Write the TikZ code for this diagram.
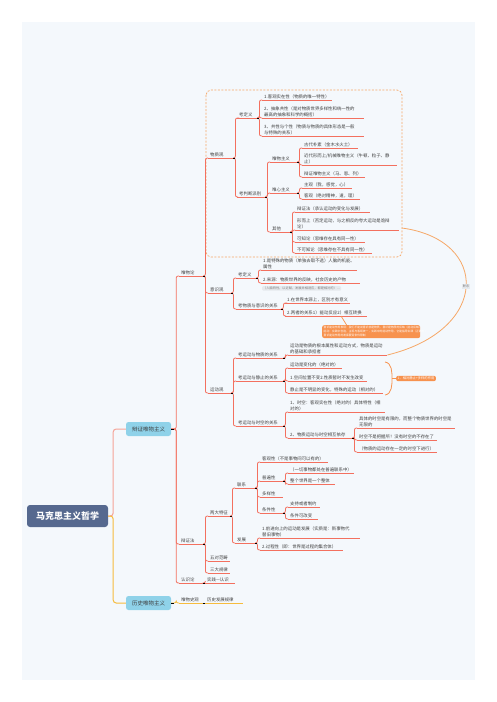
\documentclass[tikz,border=0pt]{standalone}
\usepackage{fontspec}
\setmainfont{Noto Sans CJK SC}
\usetikzlibrary{calc}
\definecolor{bgc}{HTML}{F4F8FC}
\definecolor{rootc}{HTML}{56698F}
\definecolor{l1c}{HTML}{8FD2E9}
\definecolor{lc}{HTML}{F3705F}
\definecolor{yc}{HTML}{F6BC3E}
\definecolor{pc}{HTML}{F5A398}
\definecolor{oc}{HTML}{F7924E}
\definecolor{dc}{HTML}{F6A867}
\definecolor{txt}{HTML}{3F3F3F}
\definecolor{notec}{HTML}{E6EAEE}
\tikzset{
  tp/.style={anchor=south west, inner xsep=2pt, inner ysep=1.3pt, font=\fontsize{4.4}{5.8}\selectfont, text=txt, align=left},
  ul/.style={lc, line width=0.8pt},
  yul/.style={yc, line width=0.8pt},
  cn/.style={lc, line width=0.8pt, rounded corners=2pt},
  ycn/.style={yc, line width=0.8pt, rounded corners=2pt},
  stub/.style={black, line width=0.9pt},
  rootbox/.style={fill=rootc, text=white, rounded corners=3pt, minimum width=81pt, minimum height=22pt, inner sep=0pt, font=\fontsize{9}{10}\selectfont\bfseries},
  l1box/.style={fill=l1c, text=txt, rounded corners=2.5pt, minimum width=45pt, minimum height=14pt, inner sep=0pt, font=\fontsize{5.5}{6}\selectfont},
  callout/.style={fill=oc, text=white, rounded corners=2pt, inner xsep=1.5pt, inner ysep=1.2pt, align=left},
  notebox/.style={fill=notec, text=gray, rounded corners=1pt, inner xsep=1pt, inner ysep=0.7pt, font=\fontsize{3.2}{3.6}\selectfont},
}
\newcommand\topicnode[6][]{\pgfmathsetmacro\tpw{#5-#3-4}\node[tp,text width=\tpw pt,#1] (#2) at (#3,#4) {#6};}
\begin{document}
\begin{tikzpicture}[x=1pt,y=-1pt]
\useasboundingbox (0,0) rectangle (497,702);
\fill[bgc] (22,22) rectangle (475,680);
% dashed boundary around 物质观
\draw[dc, dashed, dash pattern=on 2pt off 1.5pt, line width=0.7pt, rounded corners=5pt] (206,90) rectangle (402,257);
\coordinate (bx) at (402,228);

% root and level 1
\node[rootbox] (root) at (67.5,516) {马克思主义哲学};
\node[l1box] (A) at (148.5,429) {辩证唯物主义};
\node[l1box] (B) at (148.5,603) {历史唯物主义};
\draw[pc, line width=1pt, rounded corners=3pt] (root.east) -- ++(5,0) |- (A.west);
\draw[yc, line width=1pt, rounded corners=3pt] (root.east) -- ++(5,0) |- (B.west);

% level 2
\topicnode{w1}{179}{276}{203}{唯物论}
\topicnode{w2}{179}{544}{203}{辩证法}
\topicnode{w3}{179}{583}{203}{认识论}
\topicnode{h1}{179}{603}{203}{唯物史观}
\topicnode{h2}{205}{603}{243}{历史发展规律}

% 唯物论
\topicnode{a1}{208}{158}{233}{物质观}
\topicnode{a2}{208}{293}{231}{意识观}
\topicnode{a3}{208}{393}{231}{运动观}

% 物质观
\topicnode{b1}{237}{118}{257}{考定义}
\topicnode{b2}{237}{197}{265}{考判断派别}
\topicnode{c1}{262}{100}{332}{1.客观实在性（物质的唯一特性）}
\topicnode{c2}{262}{118}{364}{2、抽象共性（是对物质世界多样性和统一性的\\最高的抽象和科学的概括）}
\topicnode{c3}{262}{136}{364}{3、共性与个性（物质与物质的具体形态是一般\\与特殊的关系）}
\topicnode{d1}{270}{162}{297}{唯物主义}
\topicnode{d2}{270}{193}{297}{唯心主义}
\topicnode{d3}{270}{232}{290}{其他}
\topicnode{e1}{302}{148}{358}{古代朴素（金木水火土）}
\topicnode{e2}{302}{165}{397}{近代形而上/机械唯物主义（牛顿、粒子、静\\止）}
\topicnode{e3}{302}{177}{365}{辩证唯物主义（马、恩、列）}
\topicnode{e4}{302}{188}{352}{主观（我，感觉，心）}
\topicnode{e5}{302}{199}{360}{客观（绝对精神，道，理）}
\topicnode{e6}{295}{212}{370}{辩证法（承认运动的变化与发展）}
\topicnode{e7}{295}{230}{399}{形而上（否定运动，与之相反的夸大运动是诡辩\\论）}
\topicnode{e8}{295}{242}{365}{可知论（思维存在具有同一性）}
\topicnode{e9}{295}{253}{372}{不可知论（思维存在不具有同一性）}

% 意识观
\topicnode{f1}{236}{278}{256}{考定义}
\topicnode{f2}{236}{309}{281}{考物质与意识的关系}
\topicnode{g1}{261}{270}{357}{1.是特殊的物质（单独去取不选）人脑的机能、\\属性}
\topicnode{g2}{261}{283}{360}{2.来源：物质世界的反映，社会历史的产物}
\node[notebox, anchor=north west] (yn) at (262,286) {（人脑特性，以近赋，发展并相适应，都是相对的）…};
\topicnode{g3}{285}{303}{350}{1.在世界本源上，区别才有意义}
\topicnode{g4}{285}{316}{367}{2.两者的关系1）能动反应2）相互转换}
\node[callout, anchor=north west, text width=95pt, font=\fontsize{2.8}{3.9}\selectfont] (cb1) at (322,325) {意识能动作用表现：我们不能说意识就是物质，意识是物质的反映（能动反映）\\能动：实践中创造，主观与客观统一，实践中的能动作用，它能指导实践（正确的）\\意识能动作用的发挥要受条件限制};

% 运动观
\topicnode{k1}{236}{358}{283}{考运动与物质的关系}
\topicnode{k2}{236}{381}{283}{考运动与静止的关系}
\topicnode{k3}{236}{426}{283}{考运动与时空的关系}
\topicnode{l1}{288}{355}{387}{运动是物质的根本属性和运动方式，物质是运动\\的基础和承担者}
\topicnode{l2}{288}{368}{342}{运动是变化的（绝对的）}
\topicnode{l3}{288}{381}{367}{1.空间位置不变2.性质暂时不发生改变}
\topicnode{l4}{288}{393}{383}{静止是不明显的变化，特殊的运动（相对的）}
\topicnode{l5}{288}{412}{385}{1、时空：客观实在性（绝对的）具体特性（相\\对的）}
\topicnode{l6}{288}{438}{352}{2、物质运动与时空相互依存}
\topicnode{o1}{357}{428}{455}{具体的时空是有限的，而整个物质世界的时空是\\无限的}
\topicnode{o2}{357}{440}{437}{时空不是把握所！没有时空的不存在了}
\topicnode{o3}{357}{452}{437}{（物质的运动存在一定的时空下进行）}
\node[callout, anchor=west, font=\fontsize{3.3}{3.8}\selectfont] (cb2) at (396,378.5) {1、相对静止+多样的作用};

% 辩证法
\topicnode{p1}{208}{516}{230}{两大特征}
\topicnode{p2}{208}{561}{230}{五对范畴}
\topicnode{p3}{208}{573}{230}{三大规律}
\topicnode{q1}{235}{488}{255}{联系}
\topicnode{q2}{235}{543}{255}{发展}
\topicnode{r1}{260}{462}{328}{客观性（不是事物间可以有的）}
\topicnode{r2}{260}{481}{283}{普遍性}
\topicnode{r3}{260}{497}{283}{多样性}
\topicnode{r4}{260}{513}{283}{条件性}
\topicnode{s1}{288}{473}{354}{（一切事物都处在普遍联系中）}
\topicnode{s2}{288}{484}{335}{整个世界是一个整体}
\topicnode{s3}{288}{507}{320}{支持或者制约}
\topicnode{s4}{288}{519}{318}{条件可改变}
\topicnode{t1}{260}{538}{360}{1.前进向上的运动是发展（实质是：新事物代\\替旧事物）}
\topicnode{t2}{260}{550}{343}{2.过程性（即：世界是过程的集合体）}
\topicnode{u1}{205}{583}{235}{实践—认识}

% underlines
\foreach \nn in {w1,w2,w3,a1,a2,a3,b1,b2,c1,c2,c3,d1,d2,d3,e1,e2,e3,e4,e5,e6,e7,e8,e9,f1,f2,g1,g2,g3,g4,k1,k2,k3,l1,l2,l3,l4,l5,l6,o1,o2,o3,p1,p2,p3,q1,q2,r1,r2,r3,r4,s1,s2,s3,s4,t1,t2,u1}
  \draw[ul] (\nn.south west) -- (\nn.south east);
\foreach \nn in {h1,h2}
  \draw[yul] (\nn.south west) -- (\nn.south east);

% connectors
\foreach \cnode in {w1,w2,w3}
  \draw[cn] (A.east) -- ++(5,0) |- (\cnode.south west);
\draw[ycn] (B.east) -- ++(5,0) |- (h1.south west);
\draw[ycn] (h1.south east) -- (h2.south west);
\foreach \pnode/\cnode in {w1/a1,w1/a2,w1/a3,a1/b1,a1/b2,b1/c1,b1/c2,b1/c3,b2/d1,b2/d2,b2/d3,d1/e1,d1/e2,d1/e3,d2/e4,d2/e5,d3/e6,d3/e7,d3/e8,d3/e9,a2/f1,a2/f2,f1/g1,f1/g2,f2/g3,f2/g4,a3/k1,a3/k2,a3/k3,k1/l1,k2/l2,k2/l3,k2/l4,k3/l5,k3/l6,l6/o1,l6/o2,l6/o3,w2/p1,w2/p2,w2/p3,p1/q1,p1/q2,q1/r1,q1/r2,q1/r3,q1/r4,r2/s1,r2/s2,r4/s3,r4/s4,q2/t1,q2/t2,w3/u1}
  \draw[cn] (\pnode.south east) -- ++(2,0) |- (\cnode.south west);

% stubs
\draw[stub] (A.east) -- ++(2.5,0);
\draw[stub] (B.east) -- ++(2.5,0);
\foreach \pnode in {w1,w2,w3,h1,a1,a2,a3,b1,b2,d1,d2,d3,f1,f2,k1,k2,k3,l6,p1,q1,q2,r2,r4}
  \draw[stub] (\pnode.south east) -- ++(2,0);

% callout connectors
\draw[oc, line width=0.7pt] ($(g4.south west)!0.68!(g4.south east)$) -- ($(cb1.north west)!0.25!(cb1.north east)$);
\coordinate (br1) at (385,362);
\coordinate (br2) at (385,395);
\coordinate (brm) at (392,378.5);
\draw[oc, line width=0.8pt] (br1) .. controls (392,363) and (392,372) .. (brm) .. controls (392,385) and (392,394) .. (br2);
\draw[oc, line width=0.8pt] (brm) -- (cb2.west);

% relation curve
\draw[dc, line width=0.8pt] (bx) .. controls (490,240) and (490,330) .. (l1.south east)
  node[pos=0.5, fill=notec, text=gray, inner sep=0.8pt, font=\fontsize{3.2}{3.6}\selectfont] (lk) {联系};
\end{tikzpicture}
\end{document}
